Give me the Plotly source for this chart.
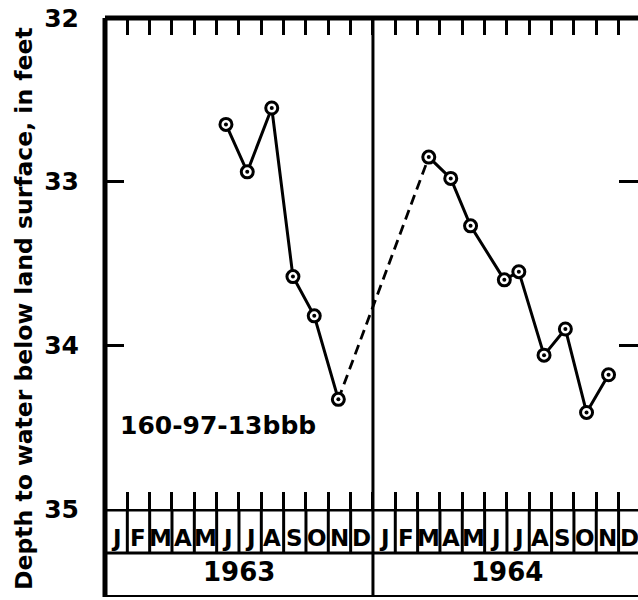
import calendar
import plotly.graph_objects as go

# Water-level measurements for observation well 160-97-13bbb
dates_1963 = ["1963-06-13", "1963-07-12", "1963-08-15", "1963-09-13",
              "1963-10-12", "1963-11-14"]
depth_1963 = [32.65, 32.94, 32.55, 33.58, 33.82, 34.33]

dates_1964 = ["1964-03-16", "1964-04-15", "1964-05-12", "1964-06-27",
              "1964-07-17", "1964-08-21", "1964-09-19", "1964-10-18",
              "1964-11-17"]
depth_1964 = [32.85, 32.98, 33.27, 33.60, 33.55, 34.06, 33.90, 34.41, 34.18]

month_letters = ["J", "F", "M", "A", "M", "J", "J", "A", "S", "O", "N", "D"]
year_labels = ["1963", "1964"]
depth_ticks = [32, 33, 34, 35]
well_id = "160-97-13bbb"
y_title = "Depth to water below land surface, in feet"

FONT = "DejaVu Sans"
W, H = 638, 600
ML, MR, MT, MB = 105, 0, 18, 3
MONTH_PX = 22.33                      # width of one month on the time axis
plot_w = W - ML - MR
paper_h = H - MT - MB
main_bottom_px = 509                  # pixel row of the 35-ft line
strip_top = (H - MB - main_bottom_px) / paper_h
x_max = plot_w / MONTH_PX


def month_pos(d):
    """Months elapsed since 1 Jan 1963, placed within the month by day."""
    y, m, day = map(int, d.split("-"))
    ndays = calendar.monthrange(y, m)[1]
    return (y - 1963) * 12 + (m - 1) + (day - 0.5) / ndays


x63 = [month_pos(d) for d in dates_1963]
x64 = [month_pos(d) for d in dates_1964]

fig = go.Figure()

# dashed connection across the winter gap in measurements
fig.add_trace(go.Scatter(
    x=[x63[-1], x64[0]], y=[depth_1963[-1], depth_1964[0]],
    mode="lines", line=dict(color="black", width=2.8, dash="10px,6px"),
    hoverinfo="skip", showlegend=False))

for xs, ys in ((x63, depth_1963), (x64, depth_1964)):
    fig.add_trace(go.Scatter(
        x=xs, y=ys, mode="lines",
        line=dict(color="black", width=3),
        showlegend=False))

all_x = x63 + x64
all_y = depth_1963 + depth_1964
fig.add_trace(go.Scatter(
    x=all_x, y=all_y, mode="markers",
    marker=dict(symbol="circle", size=12, color="white",
                line=dict(color="black", width=3)),
    showlegend=False))
fig.add_trace(go.Scatter(
    x=all_x, y=all_y, mode="markers",
    marker=dict(symbol="circle", size=4, color="black", line=dict(width=0)),
    hoverinfo="skip", showlegend=False))

shapes = []
line_black = lambda w: dict(color="black", width=w)
# outer frame of the hydrograph
shapes.append(dict(type="line", xref="paper", yref="paper", x0=0, x1=1,
                   y0=1, y1=1, line=line_black(5)))
shapes.append(dict(type="line", xref="paper", yref="paper", x0=0, x1=0,
                   y0=0, y1=1, line=line_black(5)))
shapes.append(dict(type="line", xref="paper", yref="y2", x0=0, x1=1,
                   y0=2, y1=2, line=line_black(5)))
shapes.append(dict(type="line", xref="paper", yref="y2", x0=0, x1=1,
                   y0=1, y1=1, line=line_black(3)))
shapes.append(dict(type="line", xref="paper", yref="y2", x0=0, x1=1,
                   y0=0, y1=0, line=line_black(4)))
# year divider
shapes.append(dict(type="line", xref="x", yref="paper", x0=12, x1=12,
                   y0=0, y1=1, line=line_black(3)))
# month cells
for k in range(1, 24):
    if k == 12:
        continue
    shapes.append(dict(type="line", xref="x", yref="y2", x0=k, x1=k,
                       y0=1, y1=2, line=line_black(3)))

annotations = []
for k in range(24):
    annotations.append(dict(
        x=k + 0.5, y=1.34, xref="x", yref="y2", text=month_letters[k % 12],
        showarrow=False, xanchor="center", yanchor="middle",
        font=dict(family=FONT, size=23, weight="bold", color="black")))
for i, yl in enumerate(year_labels):
    annotations.append(dict(
        x=12 * i + 6, y=0.56, xref="x", yref="y2", text=yl,
        showarrow=False, xanchor="center", yanchor="middle",
        font=dict(family=FONT, size=26, weight="bold", color="black")))

annotations.append(dict(
    x=0.58, y=34.49, xref="x", yref="y", text=well_id, showarrow=False,
    xanchor="left", yanchor="middle",
    font=dict(family=FONT, size=25, weight="bold", color="black")))

annotations.append(dict(
    x=(24 - ML) / plot_w, y=(H - MB - 309) / paper_h, xref="paper",
    yref="paper", text=y_title, textangle=-90, showarrow=False,
    xanchor="center", yanchor="middle",
    font=dict(family=FONT, size=23.5, weight="bold", color="black")))

fig.update_layout(
    width=W, height=H,
    margin=dict(l=ML, r=MR, t=MT, b=MB, pad=0, autoexpand=False),
    paper_bgcolor="white", plot_bgcolor="white",
    showlegend=False,
    xaxis=dict(range=[0, x_max], showgrid=False, zeroline=False,
               showline=False, ticks="inside", ticklen=17, tickwidth=3,
               tickcolor="black", tickvals=list(range(1, 24)),
               showticklabels=False, mirror="ticks", anchor="y",
               automargin=False),
    yaxis=dict(domain=[strip_top, 1], range=[35, 32], showgrid=False,
               zeroline=False, showline=False, ticks="inside", ticklen=19,
               tickwidth=3, tickcolor="black", tickvals=depth_ticks,
               ticktext=[str(t) for t in depth_ticks], mirror="ticks",
               ticklabelstandoff=25, automargin=False,
               tickfont=dict(family=FONT, size=25, weight="bold",
                             color="black"), anchor="x"),
    yaxis2=dict(domain=[0, strip_top], range=[0, 2], visible=False,
                anchor="x", fixedrange=True, automargin=False),
    shapes=shapes,
    annotations=annotations,
)

fig.write_html("out.html")
